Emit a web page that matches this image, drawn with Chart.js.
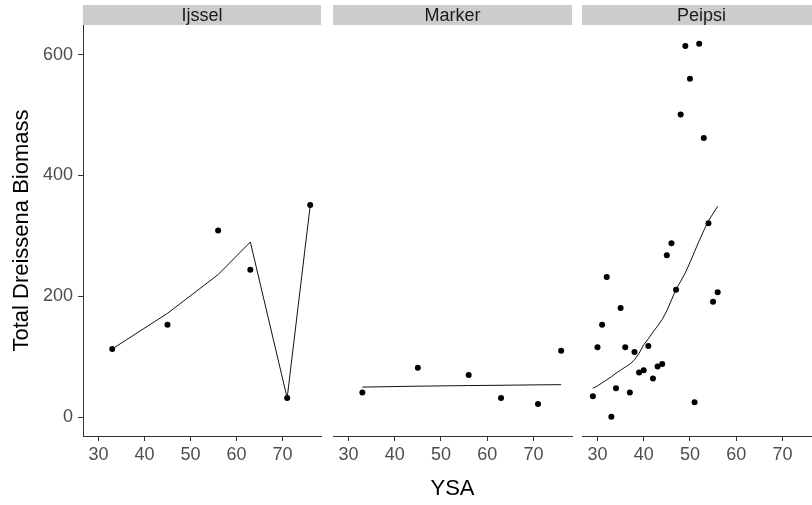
<!DOCTYPE html>
<html>
<head>
<meta charset="utf-8">
<script src="https://cdn.jsdelivr.net/npm/chart.js@4"></script>
<style>
  html, body { margin: 0; padding: 0; background: #fff; overflow: hidden; }
  .panel { position: absolute; top: 0; }
</style>
</head>
<body>
<canvas id="pIjssel" class="panel" width="325" height="505" style="left:0px"></canvas>
<canvas id="pMarker" class="panel" width="247" height="505" style="left:329px"></canvas>
<canvas id="pPeipsi" class="panel" width="247" height="505" style="left:578px"></canvas>
<script>
// Data
const panelNames = ["Ijssel", "Marker", "Peipsi"];

const ijsselYsa = [33, 45, 56, 63, 71, 76];
const ijsselBiomass = [113, 153, 309, 244, 32, 351];
const ijsselFit = [113, 172, 236, 290, 32, 350];

const markerYsa = [33, 45, 56, 63, 71, 76];
const markerBiomass = [41, 82, 70, 32, 22, 110];
const markerFit = [50, 51.5, 52.5, 53, 53.7, 54];

const peipsiYsa = [29, 30, 31, 32, 33, 34, 35, 36, 37, 38, 39, 40, 41, 42,
                   43, 44, 45, 46, 47, 48, 49, 50, 51, 52, 53, 54, 55, 56];
const peipsiBiomass = [35, 116, 153, 232, 1, 48, 181, 116, 41, 108, 74, 78, 118, 64,
                       84, 88, 268, 288, 211, 501, 614, 560, 25, 618, 462, 321, 191, 207];
const peipsiFit = [48, 52, 57, 62, 67, 73, 78, 83, 88, 95, 106, 120, 130, 141,
                   151, 162, 176, 194, 212, 225, 239, 256, 274, 292, 309, 325, 337, 349];

const xTicks = [30, 40, 50, 60, 70];
const yTicks = [0, 200, 400, 600];
const xLimits = [26.65, 78.35];
const yLimits = [-30.9, 648.9];

const axisColor = "#333333";
const fontFamily = "'Liberation Sans', Arial, sans-serif";

// grey strip with the facet name above each panel
const stripPlugin = {
  id: "strip",
  beforeDraw(chart, args, opts) {
    const ctx = chart.ctx;
    const area = chart.chartArea;
    ctx.save();
    ctx.fillStyle = "#CCCCCC";
    ctx.fillRect(area.left, 5, area.right - area.left, 20);
    ctx.fillStyle = "#1A1A1A";
    ctx.font = "18px " + fontFamily;
    ctx.textAlign = "center";
    ctx.textBaseline = "middle";
    ctx.fillText(opts.label, (area.left + area.right) / 2, 16);
    ctx.restore();
  }
};

function toPoints(xs, ys) {
  return xs.map((x, i) => ({ x: x, y: ys[i] }));
}

function makePanel(id, name, ysa, biomass, fit, first, middle) {
  const canvas = document.getElementById(id);
  return new Chart(canvas, {
    type: "scatter",
    data: {
      datasets: [
        {
          type: "line",
          data: toPoints(ysa, fit),
          borderColor: "#111",
          borderWidth: 1,
          pointRadius: 0,
          fill: false,
          tension: 0,
        },
        {
          data: toPoints(ysa, biomass),
          backgroundColor: "#000",
          borderWidth: 0,
          pointRadius: 3,
        },
      ],
    },
    plugins: [stripPlugin],
    options: {
      responsive: false,
      animation: false,
      devicePixelRatio: 1,
      layout: {
        padding: { top: 25, bottom: 0, left: first ? 0 : 4, right: 4 },
      },
      plugins: {
        legend: { display: false },
        tooltip: { enabled: false },
        strip: { label: name },
      },
      scales: {
        x: {
          type: "linear",
          min: xLimits[0],
          max: xLimits[1],
          afterBuildTicks: (scale) => { scale.ticks = xTicks.map(v => ({ value: v })); },
          afterFit: (scale) => { scale.height = 69; },
          grid: { drawOnChartArea: false, tickLength: 5, tickColor: axisColor, tickWidth: 1 },
          border: { display: true, color: axisColor, width: 1 },
          ticks: { color: "#4D4D4D", padding: 3, font: { size: 18, family: fontFamily }, maxRotation: 0 },
          title: {
            display: middle,
            text: "YSA",
            color: "#000",
            font: { size: 22, family: fontFamily },
            padding: { top: 4, bottom: 3 },
          },
        },
        y: {
          type: "linear",
          display: first,
          min: yLimits[0],
          max: yLimits[1],
          afterBuildTicks: (scale) => { scale.ticks = yTicks.map(v => ({ value: v })); },
          afterFit: (scale) => { scale.width = first ? 83 : 0; },
          grid: { drawOnChartArea: false, tickLength: 5, tickColor: axisColor, tickWidth: 1 },
          border: { display: true, color: axisColor, width: 1 },
          ticks: { color: "#4D4D4D", padding: 5, font: { size: 18, family: fontFamily } },
          title: {
            display: true,
            text: "Total Dreissena Biomass",
            color: "#000",
            font: { size: 22, family: fontFamily },
            padding: { top: 9, bottom: 0 },
          },
        },
      },
    },
  });
}

makePanel("pIjssel", panelNames[0], ijsselYsa, ijsselBiomass, ijsselFit, true, false);
makePanel("pMarker", panelNames[1], markerYsa, markerBiomass, markerFit, false, true);
makePanel("pPeipsi", panelNames[2], peipsiYsa, peipsiBiomass, peipsiFit, false, false);
</script>
</body>
</html>
